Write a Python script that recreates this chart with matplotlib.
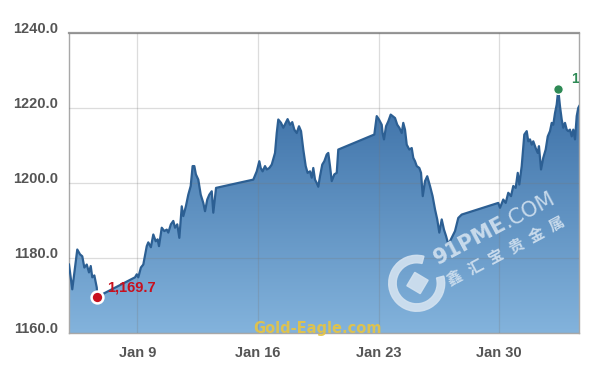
import numpy as np
import pandas as pd
import matplotlib
matplotlib.use('Agg')
import matplotlib.pyplot as plt
import matplotlib.dates as mdates
from matplotlib.colors import LinearSegmentedColormap
from matplotlib.patches import Wedge, RegularPolygon

# time in days since Dec 31 2016 (intraday), gold price USD/oz
days = np.array([
    5.04, 5.23, 5.52, 5.68, 5.81, 5.93, 6.07, 6.20, 6.30, 6.39, 6.51, 6.65, 6.68,
    8.87, 8.97, 9.06, 9.21, 9.35, 9.55, 9.64, 9.79, 9.93, 10.07, 10.18, 10.26,
    10.42, 10.57, 10.71, 10.80, 10.95, 11.09, 11.19, 11.32, 11.44, 11.58, 11.67,
    11.82, 11.96, 12.10, 12.21, 12.31, 12.40, 12.54, 12.68, 12.83, 12.93, 13.06,
    13.18, 13.32, 13.41, 13.57,
    15.73, 15.93, 16.08, 16.16, 16.27, 16.41, 16.51, 16.66, 16.80, 16.99, 17.09,
    17.18, 17.34, 17.47, 17.61, 17.72, 17.86, 17.99, 18.11, 18.25, 18.38, 18.50,
    18.63, 18.77, 18.88, 19.02, 19.12, 19.21, 19.31, 19.41, 19.50, 19.60, 19.73,
    19.85, 19.99, 20.08, 20.18, 20.28, 20.43, 20.57, 20.66,
    22.75, 22.89, 23.02, 23.18, 23.23, 23.31, 23.43, 23.56, 23.70, 23.81, 23.95,
    24.08, 24.20, 24.34, 24.43, 24.53, 24.63, 24.78, 24.92, 25.01, 25.11, 25.21,
    25.36, 25.46, 25.56, 25.69, 25.82, 25.98, 26.13, 26.27, 26.40, 26.52, 26.66,
    26.79, 26.91, 27.04, 27.14, 27.29, 27.43, 27.62, 27.82,
    29.94, 30.04, 30.23, 30.37, 30.52, 30.68, 30.81, 30.95, 31.07, 31.16, 31.30,
    31.45, 31.59, 31.68, 31.78, 31.88, 31.97, 32.11, 32.23, 32.30, 32.42, 32.55,
    32.69, 32.81, 32.94, 33.04, 33.13, 33.23, 33.33, 33.42, 33.52, 33.62, 33.71,
    33.81, 33.91, 34.00, 34.10, 34.20, 34.29, 34.39, 34.49, 34.58, 34.64,
])
prices = np.array([
    1178.3, 1171.7, 1182.3, 1181.0, 1180.5, 1177.5, 1178.3, 1176.2, 1177.9, 1174.9, 1175.4, 1172.2, 1169.7,
    1174.9, 1175.7, 1174.9, 1177.5, 1178.3, 1183.2, 1184.2, 1182.9, 1186.3, 1184.5, 1185.0, 1183.2,
    1188.1, 1187.2, 1187.6, 1186.8, 1189.0, 1189.9, 1188.1, 1189.0, 1185.4, 1193.8, 1191.2,
    1193.8, 1196.9, 1199.2, 1204.5, 1204.5, 1202.3, 1200.9, 1196.9, 1194.7, 1192.5, 1195.6,
    1196.9, 1197.8, 1192.1, 1198.7,
    1200.9, 1203.1, 1205.8, 1204.0, 1203.1, 1204.5, 1203.6, 1204.0, 1204.9, 1208.0, 1213.3,
    1216.9, 1216.0, 1214.7, 1216.0, 1217.0, 1215.5, 1216.2, 1214.2, 1213.3, 1215.1, 1213.8,
    1208.9, 1204.5, 1202.7, 1203.1, 1201.4, 1204.0, 1200.9, 1200.0, 1199.0, 1201.8, 1204.9,
    1205.8, 1207.6, 1208.0, 1204.5, 1200.5, 1202.3, 1202.7, 1208.9,
    1212.9, 1217.8, 1216.9, 1215.5, 1213.3, 1211.6, 1215.1, 1216.4, 1218.2, 1217.8, 1217.3,
    1215.5, 1214.7, 1213.3, 1216.0, 1214.2, 1210.2, 1208.9, 1209.3, 1206.7, 1205.8, 1204.5,
    1204.0, 1202.7, 1196.5, 1200.5, 1201.8, 1199.2, 1196.5, 1193.0, 1190.3, 1186.8, 1190.3,
    1187.6, 1185.9, 1183.7, 1184.5, 1185.9, 1187.2, 1190.7, 1191.6,
    1194.7, 1193.4, 1195.6, 1194.7, 1197.4, 1196.5, 1199.2, 1198.7, 1202.7, 1199.6, 1204.5,
    1212.9, 1213.8, 1211.1, 1211.6, 1210.2, 1211.1, 1209.3, 1208.0, 1209.8, 1203.6, 1206.7,
    1208.9, 1212.4, 1213.8, 1216.0, 1215.5, 1218.6, 1220.9, 1224.9, 1220.4, 1216.9, 1214.7,
    1216.0, 1214.2, 1213.8, 1214.2, 1212.4, 1214.2, 1211.6, 1217.8, 1220.0, 1220.5,
])
tick_dates = ['2017-01-09', '2017-01-16', '2017-01-23', '2017-01-30']
tick_labels = ['Jan 9', 'Jan 16', 'Jan 23', 'Jan 30']
y_ticks = [1160, 1180, 1200, 1220, 1240]

base = pd.Timestamp('2016-12-31')
x = mdates.date2num((base + pd.to_timedelta(days, unit='D')).to_pydatetime())
x0, x1 = x[0], x[-1]

fig = plt.figure(figsize=(5.89, 3.68), dpi=100)
ax = fig.add_axes([69 / 589, 34.7 / 368, 510.3 / 589, 300.6 / 368])

# gradient fill under the line
poly = ax.fill_between(x, prices, 1160, color='none', lw=0)
cmap = LinearSegmentedColormap.from_list('g', ['#83b3dc', '#3a6ea5'])
grad = np.linspace(0, 1, 256).reshape(-1, 1)
im = ax.imshow(grad, cmap=cmap, origin='lower', aspect='auto',
               extent=[x0, x1, 1160, 1226], zorder=1)
im.set_clip_path(poly.get_paths()[0], transform=ax.transData)
ax.plot(x, prices, color='#2c5f93', lw=1.6, zorder=3, solid_joinstyle='round')

ax.set_xlim(x0, x1)
ax.set_ylim(1160, 1240)
ax.set_xticks(mdates.date2num(pd.to_datetime(tick_dates).to_pydatetime()))
ax.set_xticklabels(tick_labels)
ax.set_yticks(y_ticks)
ax.set_yticklabels([f'{v:.1f}' for v in y_ticks])
ax.grid(True, color='#777777', alpha=0.25, lw=0.9, zorder=2)
ax.set_axisbelow(False)
ax.tick_params(length=0, colors='#555555', labelsize=10.5)
for lab in ax.get_xticklabels() + ax.get_yticklabels():
    lab.set_fontfamily('Liberation Sans')
    lab.set_fontweight('bold')
for lab in ax.get_yticklabels():
    lab.set_va('baseline')
ax.tick_params(axis='y', pad=8)
ax.tick_params(axis='x', pad=9)
for side in ['left', 'bottom', 'right']:
    ax.spines[side].set_color('#a8a8a8')
    ax.spines[side].set_linewidth(1)
ax.spines['top'].set_color('#9a9a9a')
ax.spines['top'].set_linewidth(1.6)

# min / max markers
i_min = int(np.argmin(prices))
i_max = int(np.argmax(prices))
ax.plot(x[i_min], prices[i_min], 'o', color='#c8101e', ms=8.5, mec='white', mew=1.8, zorder=5)
ax.annotate(f'{prices[i_min]:,.1f}', (x[i_min], prices[i_min]), xytext=(7, 4),
            textcoords='offset points', color='#c8101e', fontsize=10.5,
            fontweight='bold', family='Liberation Sans', zorder=6)
ax.plot(x[i_max], prices[i_max], 'o', color='#2e8a55', ms=7, mec='white', mew=1, zorder=5)
t_max = ax.annotate(f'{prices[i_max]:,.1f}', (x[i_max], prices[i_max]), xytext=(9, 5),
                    textcoords='offset points', color='#2e8a55', fontsize=10,
                    fontweight='bold', family='Liberation Sans', zorder=6)
t_max.set_clip_on(True)
t_max.set_clip_box(ax.bbox)

# watermarks
fig.text(318 / 589, 1 - 328 / 368, 'Gold-Eagle.com', color='#e8c440', fontsize=10.5,
         fontweight='bold', ha='center', va='center', family='DejaVu Sans', alpha=0.9)
wm = '#d3e2f0'
tr = fig.dpi_scale_trans
fig.patches.append(Wedge((4.167, 0.847), 0.28, 75, 15, width=0.075, color=wm,
                         alpha=0.9, transform=tr, figure=fig))
fig.patches.append(RegularPolygon((4.175, 0.85), 4, radius=0.11, orientation=0.25,
                                  color=wm, alpha=0.9, transform=tr, figure=fig))
ang = np.deg2rad(28)
renderer = fig.canvas.get_renderer()
t1 = fig.text(4.38, 1.03, '91PME', transform=tr, rotation=28, rotation_mode='anchor',
              ha='left', va='baseline', color=wm, fontsize=15, fontweight='bold',
              alpha=0.9, family='DejaVu Sans')
tmp = fig.text(0, 0, '91PME', fontsize=15, fontweight='bold', family='DejaVu Sans')
w = tmp.get_window_extent(renderer).width / fig.dpi
tmp.remove()
fig.text(4.38 + w * np.cos(ang), 1.03 + w * np.sin(ang), '.COM', transform=tr,
         rotation=28, rotation_mode='anchor', ha='left', va='baseline', color=wm,
         fontsize=15, alpha=0.9, family='DejaVu Sans')
cn = '鑫汇宝贵金属'
for k, ch in enumerate(cn):
    fig.text(4.50 + k * 0.205, 0.82 + k * 0.108, ch, transform=tr, rotation=28,
             rotation_mode='anchor', ha='left', va='baseline', color=wm, fontsize=11,
             fontweight='bold', alpha=0.9, family=['Noto Sans CJK SC', 'DejaVu Sans'])

fig.savefig('out.png', dpi=100)
